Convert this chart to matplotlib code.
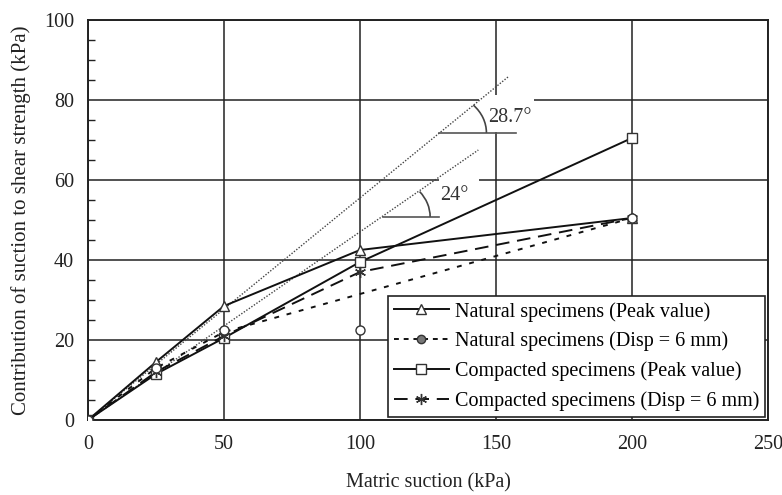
import numpy as np
import matplotlib
matplotlib.use("Agg")
import matplotlib.pyplot as plt
from matplotlib.patches import Arc, Rectangle

# ---- data ----
suction = [0, 25, 50, 100, 200]
nat_peak = [0, 14.5, 28.5, 42.5, 50.5]
nat_disp = [0, 13.0, 22.5, 22.5, 50.5]
nat_disp_line_x = [0, 25, 50, 200]
nat_disp_line_y = [0, 13.0, 22.0, 50.5]
comp_peak = [0, 11.5, 20.5, 39.5, 70.5]
comp_disp = [0, 12.0, 21.0, 37.0, 50.5]

ref_end_x = [154.5, 143.5]
ref_end_y = [85.8, 67.5]
angle_labels = ["28.7°", "24°"]
labels = ["Natural specimens (Peak value)",
          "Natural specimens (Disp = 6 mm)",
          "Compacted specimens (Peak value)",
          "Compacted specimens (Disp = 6 mm)"]

plt.rcParams['font.family'] = ['Liberation Serif', 'DejaVu Serif']

FS = 14.5
fig = plt.figure(figsize=(7.82, 4.95), dpi=100)
ax = fig.add_axes([88/782, 1-420/495, 680/782, 400/495])
ax.set_xlim(0, 250)
ax.set_ylim(0, 100)
ax.set_xticks([0, 50, 100, 150, 200, 250])
ax.set_yticks([0, 20, 40, 60, 80, 100])
ax.set_yticks(np.arange(0, 101, 5), minor=True)
ax.grid(True, which='major', color='#222222', linewidth=1.1)
ax.set_axisbelow(True)
ax.tick_params(axis='both', which='major', length=0, labelsize=FS, colors='#222222')
ax.tick_params(axis='x', pad=11)
ax.tick_params(axis='y', pad=10)
ax.tick_params(axis='y', which='minor', direction='in', length=5, width=1, color='#222222')
ax.tick_params(axis='x', which='minor', length=0)
for s in ax.spines.values():
    s.set_color('#222222')
    s.set_linewidth(1.4)

# reference (dotted) lines
for ex, ey in zip(ref_end_x, ref_end_y):
    ax.plot([0, ex], [0, ey], color='#444444', linewidth=1.0,
            linestyle=(0, (1, 1.2)), zorder=2)

# data series
lk = dict(color='#111111', linewidth=1.4, zorder=3)
ax.plot(suction, nat_peak, marker='^', markersize=7, markerfacecolor='white',
        markeredgecolor='#333333', label=labels[0], **lk)
ax.plot(nat_disp_line_x, nat_disp_line_y, linestyle=(0, (2.5, 4)), **lk)
ax.plot(suction, nat_disp, linestyle='none', marker='o', markersize=6.5,
        markerfacecolor='white', markeredgecolor='#333333', zorder=4)
ax.plot([], [], linestyle=(0, (2.5, 2.5)), marker='o', markersize=6,
        markerfacecolor='#777777', markeredgecolor='#333333',
        color='#111111', linewidth=1.4, label=labels[1])
ax.plot(suction, comp_peak, marker='s', markersize=6.5, markerfacecolor='white',
        markeredgecolor='#333333', label=labels[2], **lk)
ax.plot(suction, comp_disp, linestyle=(0, (7, 4)), marker=(6, 2, 0),
        markersize=8, markeredgecolor='#333333', label=labels[3], **lk)

# angle annotations
sx, sy = 680/250, 4.0  # px per data unit
# (center x, center y, horiz radius px, vert radius px, horiz line end x, text pos, white box [x0,y0,x1,y1])
arc_info = [(129.2, 71.8, 47, 40, 157.3, (147.0, 75.5), (143.7, 71.9, 164.0, 81.3)),
            (108.5, 50.8, 47, 40, 129.0, (129.3, 56.0), (129.0, 52.0, 143.7, 60.6))]
for (cx, cy, rx, ry, hx2, tpos, box), ex, ey, lab in zip(arc_info, ref_end_x, ref_end_y, angle_labels):
    ang = np.degrees(np.arctan2(ey, ex))
    ax.add_patch(Rectangle((box[0], box[1]), box[2]-box[0], box[3]-box[1],
                           facecolor='white', edgecolor='none', zorder=1.5))
    ax.plot([cx, hx2], [cy, cy], color='#555555', linewidth=1.2, zorder=2)
    ax.add_patch(Arc((cx, cy), 2*rx/sx, 2*ry/sy, theta1=0, theta2=ang,
                     color='#444444', linewidth=1.2, zorder=2))
    ax.text(tpos[0], tpos[1], lab, fontsize=FS, color='#333333', va='center', ha='left',
            zorder=2.5)

leg = ax.legend(loc='lower right', bbox_to_anchor=(1.0 - 3/680, 3/400),
                fontsize=FS, frameon=True, fancybox=False, edgecolor='#222222',
                framealpha=1, borderpad=0.3, labelspacing=0.5, handlelength=2.7,
                handletextpad=0.3, borderaxespad=0)
leg.get_frame().set_linewidth(1.2)
leg.set_zorder(5)

ax.set_xlabel("Matric suction (kPa)", fontsize=FS, labelpad=14, color='#222222')
ax.set_ylabel("Contribution of suction to shear strength (kPa)", fontsize=15,
              labelpad=9, color='#222222')

fig.savefig("out.png", dpi=100)
